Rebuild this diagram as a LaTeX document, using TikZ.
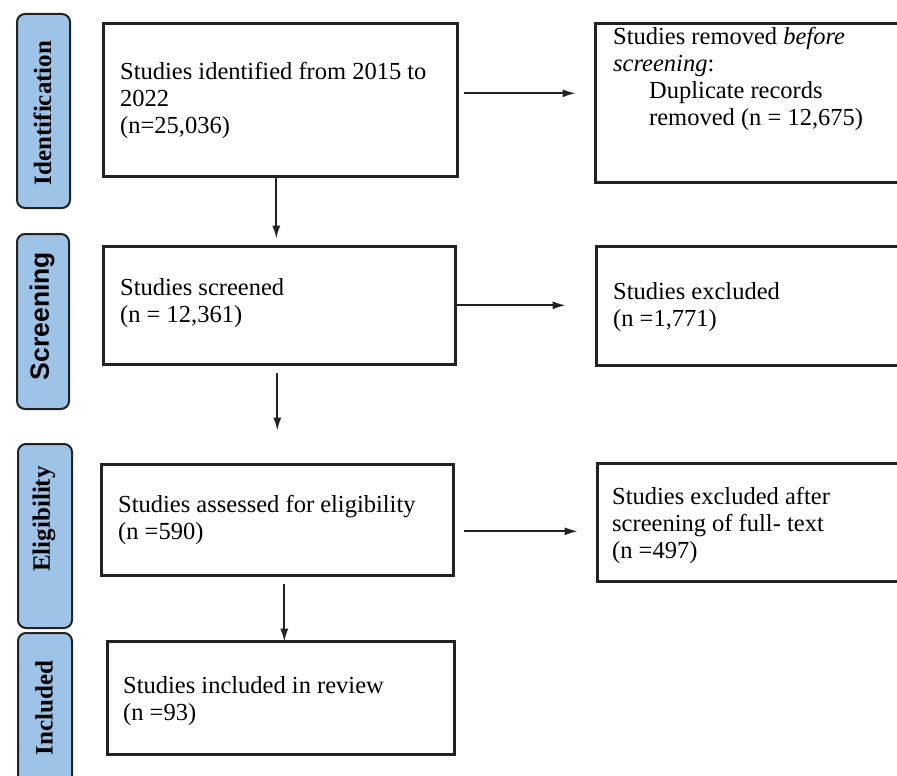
\documentclass[tikz,border=0pt]{standalone}
\usepackage{fontspec}
\setmainfont{Liberation Serif}
\setsansfont{Liberation Sans}
\usetikzlibrary{arrows.meta,calc}
\definecolor{lblue}{RGB}{157,195,230}
\definecolor{edge}{RGB}{34,34,34}
\tikzset{
  box/.style={draw=edge, line width=2.6pt, rectangle, inner sep=0pt, anchor=north west},
  side/.style={draw=edge, fill=lblue, line width=2pt, rounded corners=8pt, rectangle, inner sep=0pt, anchor=north west},
  txt/.style={inner sep=0pt, align=left, anchor=west, font=\fontsize{24.5}{27}\selectfont},
  sidetxt/.style={inner sep=0pt, rotate=90, font=\fontsize{25}{27}\selectfont\bfseries},
  arr/.style={draw=edge, line width=1.7pt, -{Latex[length=13pt,width=8pt]}}
}
\begin{document}
\begin{tikzpicture}[x=1pt,y=-1pt]
\useasboundingbox (0,0) rectangle (897,776);
\fill[white] (0,0) rectangle (897,776);
\begin{scope}
\clip (0,0) rectangle (897,776);
% side labels
\node[side, minimum width=53pt, minimum height=194pt] (l1) at (16,13) {};
\node[side, minimum width=52pt, minimum height=175pt] (l2) at (16,233) {};
\node[side, minimum width=54pt, minimum height=184pt] (l3) at (17,443) {};
\node[side, minimum width=54pt, minimum height=170pt] (l4) at (17,632) {};
\node[sidetxt] (s1) at (42.5,113) {Identification};
\node[sidetxt, font=\fontsize{26.5}{27}\sffamily\bfseries] (s2) at (42,316) {Screening};
\node[sidetxt] (s3) at (44,519) {Eligibility};
\node[sidetxt] (s4) at (44,708) {Included};
% main boxes
\node[box, minimum width=354pt, minimum height=153pt] (b1) at (102,22) {};
\node[box, minimum width=352pt, minimum height=118pt] (b2) at (102,245) {};
\node[box, minimum width=352pt, minimum height=111pt] (b3) at (100,463) {};
\node[box, minimum width=347pt, minimum height=113pt] (b4) at (106,640) {};
% right boxes
\node[box, minimum width=320pt, minimum height=159pt] (r1) at (594,22) {};
\node[box, minimum width=320pt, minimum height=119pt] (r2) at (595,245) {};
\node[box, minimum width=320pt, minimum height=118pt] (r3) at (596,462) {};
% texts
\node[txt] (t1) at (120,100) {Studies identified from 2015 to\\2022\\(n=25,036)};
\node[txt] (t2) at (120,303) {Studies screened\\(n = 12,361)};
\node[txt] (t3) at (118,520) {Studies assessed for eligibility\\(n =590)};
\node[txt] (t4) at (123,701) {Studies included in review\\(n =93)};
\node[txt] (u1) at (613,79) {Studies removed \textit{before}\\\textit{screening}:\\\hspace*{36pt}Duplicate records\\\hspace*{36pt}removed (n = 12,675)};
\node[txt] (u2) at (613,307) {Studies excluded\\(n =1,771)};
\node[txt] (u3) at (612,525) {Studies excluded after\\screening of full- text\\(n =497)};
% arrows
\draw[arr] ([xshift=5pt,yshift=6.5pt]b1.east) -- ++(112,0);
\draw[arr] ([xshift=-4pt]b1.south) -- ++(0,61);
\draw[arr] ([xshift=0pt]b2.east) -- ++(109,0);
\draw[arr] ([xshift=-2pt,yshift=-7pt]b2.south) -- ++(0,58);
\draw[arr] ([xshift=9pt,yshift=-11.5pt]b3.east) -- ++(114,0);
\draw[arr] ([xshift=7pt,yshift=-7pt]b3.south) -- ++(0,58);
\end{scope}
\end{tikzpicture}
\end{document}
